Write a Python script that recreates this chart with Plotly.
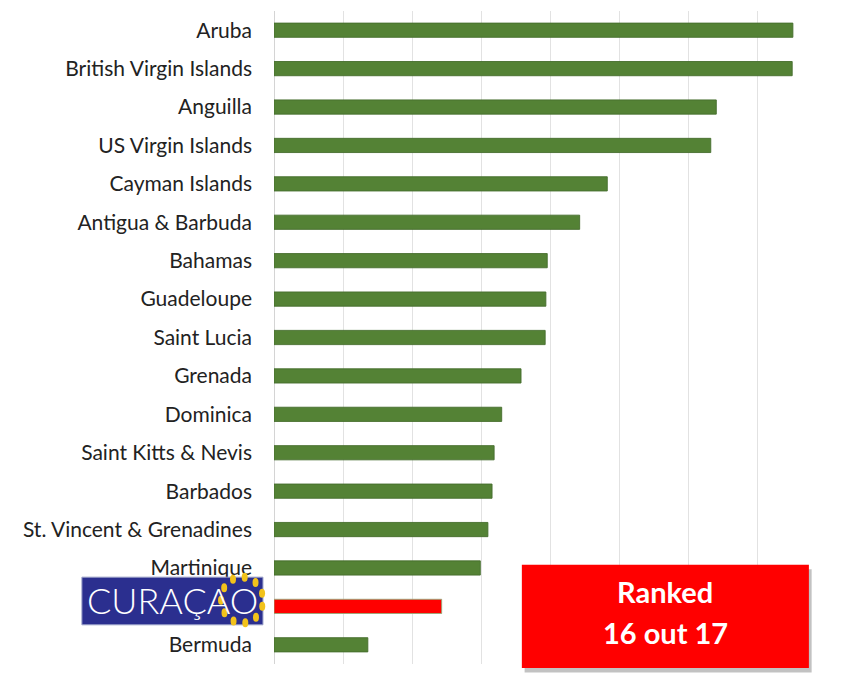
import math
import plotly.graph_objects as go

countries = ["Aruba", "British Virgin Islands", "Anguilla", "US Virgin Islands", "Cayman Islands",
             "Antigua & Barbuda", "Bahamas", "Guadeloupe", "Saint Lucia", "Grenada", "Dominica",
             "Saint Kitts & Nevis", "Barbados", "St. Vincent & Grenadines", "Martinique", "Curaçao",
             "Bermuda"]
values = [7.52, 7.51, 6.41, 6.33, 4.83, 4.43, 3.96, 3.94, 3.93, 3.58, 3.30, 3.19, 3.16, 3.10,
          2.99, 2.43, 1.36]
highlight = "Curaçao"
tick_labels = ["" if c == highlight else c for c in countries]

colors = ["#FF0000" if c == highlight else "#548235" for c in countries]
edges = ["rgba(150,170,120,0.9)" if c == highlight else "rgba(70,110,45,0.9)" for c in countries]

fig = go.Figure(go.Bar(
    x=values, y=countries, orientation="h", width=0.37,
    marker=dict(color=colors, line=dict(color=edges, width=1)),
    hoverinfo="x+y",
))

fig.update_layout(
    width=865, height=675,
    margin=dict(l=274, r=39, t=11, b=11),
    paper_bgcolor="white", plot_bgcolor="white",
    showlegend=False,
    font=dict(family="Lato, Open Sans, sans-serif", size=21, color="#222222"),
    xaxis=dict(range=[0, 8], dtick=1, showgrid=True, gridcolor="#e2e2e2", gridwidth=1,
               showticklabels=False, zeroline=True, zerolinecolor="#d4d4d4", zerolinewidth=1,
               showline=False, fixedrange=True),
    yaxis=dict(autorange="reversed", tickmode="array", tickvals=countries, ticktext=tick_labels,
               ticks="", showgrid=False, tickfont=dict(size=21, color="#222222"),
               ticklabelstandoff=21, automargin=False, fixedrange=True),
)

# Red "Ranked" box
fig.add_shape(type="rect", xref="paper", yref="paper", x0=0.454, x1=0.974, y0=-0.013, y1=0.145,
              fillcolor="rgba(80,80,80,0.35)", line=dict(width=0), layer="above")
fig.add_shape(type="rect", xref="paper", yref="paper", x0=0.449, x1=0.969, y0=-0.006, y1=0.152,
              fillcolor="#FF0000", line=dict(width=0), layer="above")
for txt, py in [("Ranked", 591), ("16 out 17", 632)]:
    fig.add_annotation(xref="paper", yref="paper", x=0.709, y=(664 - py) / 653, xanchor="center",
                       yanchor="middle", showarrow=False, text=txt,
                       font=dict(family="Lato, Open Sans, sans-serif", size=29, color="white",
                                 weight="bold"))

# Curaçao logo approximation
fig.add_shape(type="rect", xref="paper", yref="paper", x0=-0.348, x1=-0.020, y0=0.060, y1=0.133,
              fillcolor="#2B2F8F", line=dict(color="#9aa0c8", width=1), layer="above")
cx, cy = (242 - 274) / 552, (664 - 600) / 653
for k in range(11):
    a = 2 * math.pi * k / 11 + 0.3
    px = cx + 21 * math.cos(a) / 552
    py = cy + 23 * math.sin(a) / 653
    fig.add_shape(type="circle", xref="paper", yref="paper",
                  x0=px - 3 / 552, x1=px + 3 / 552, y0=py - 4.5 / 653, y1=py + 4.5 / 653,
                  fillcolor="#F2C21B", line=dict(width=0), layer="above")
fig.add_annotation(xref="paper", yref="paper", x=(172 - 274) / 552, y=(664 - 600) / 653,
                   xanchor="center", yanchor="middle", showarrow=False,
                   text="CURAÇAO", font=dict(family="Lato, sans-serif", size=36,
                                             color="white", weight=300))

fig.write_html("out.html", config={"displayModeBar": False},
               post_script="document.body.style.margin='0';")
